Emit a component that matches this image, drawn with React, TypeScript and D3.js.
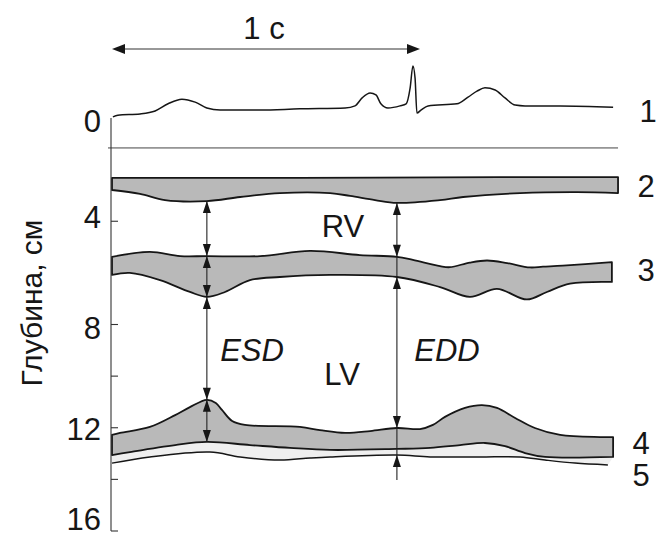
import React from 'react';
import * as d3 from 'd3';

// ---------- DATA (time in ms, depth in cm, ECG in mV) ----------
const ecgTimes = [3, 19, 91, 140, 182, 227, 270, 308, 351, 481, 610, 757, 789, 812, 838, 857, 873, 896, 935, 955, 968, 977, 984, 990, 1003, 1026, 1120, 1156, 1185, 1211, 1244, 1276, 1309, 1341, 1455, 1627];
const ecgMv = [-0.21, -0.17, -0.14, -0.07, 0.1, 0.21, 0.14, 0.0, -0.05, -0.05, -0.02, 0.0, 0.05, 0.24, 0.36, 0.31, 0.1, 0.0, 0.05, 0.1, 0.48, 1.0, 0.71, -0.12, -0.05, 0.05, 0.1, 0.26, 0.4, 0.48, 0.43, 0.24, 0.07, 0.05, 0.05, 0.02];

const chestLineDepth = 1.16;
const traceEnd = 1643;

// 2: RV anterior wall
const band2TopT = [0, 610, 1260, 1643];
const band2TopD = [2.32, 2.32, 2.29, 2.29];
const band2BotT = [0, 91, 172, 308, 416, 545, 708, 773, 854, 925, 1065, 1140, 1325, 1510, 1643];
const band2BotD = [2.79, 2.94, 3.18, 3.22, 3.06, 2.91, 2.91, 3.02, 3.18, 3.29, 3.18, 3.06, 2.91, 2.87, 2.91];

// 3: interventricular septum
const band3TopT = [0, 123, 221, 308, 481, 643, 805, 925, 977, 1065, 1097, 1162, 1218, 1283, 1357, 1399, 1464, 1623];
const band3TopD = [5.38, 5.19, 5.35, 5.35, 5.35, 5.15, 5.31, 5.38, 5.5, 5.74, 5.78, 5.6, 5.52, 5.62, 5.79, 5.76, 5.72, 5.58];
const band3BotT = [0, 58, 156, 253, 308, 367, 448, 545, 708, 925, 1065, 1162, 1250, 1347, 1412, 1487, 1623];
const band3BotD = [6.08, 6.0, 6.28, 6.74, 6.93, 6.74, 6.28, 6.16, 6.08, 6.16, 6.55, 6.93, 6.62, 7.03, 6.74, 6.42, 6.35];

// 4: LV posterior wall
const band4TopT = [0, 26, 123, 205, 253, 308, 337, 357, 390, 432, 610, 675, 757, 838, 925, 1000, 1042, 1081, 1146, 1201, 1250, 1309, 1373, 1455, 1585, 1627];
const band4TopD = [12.28, 12.2, 11.97, 11.51, 11.2, 10.92, 11.04, 11.31, 11.74, 11.89, 11.97, 12.09, 12.2, 12.13, 12.01, 12.05, 11.89, 11.58, 11.23, 11.12, 11.23, 11.62, 12.01, 12.28, 12.36, 12.36];
const band4BotT = [0, 58, 205, 308, 448, 578, 708, 925, 1033, 1130, 1211, 1276, 1341, 1406, 1627];
const band4BotD = [13.06, 12.94, 12.67, 12.55, 12.67, 12.78, 12.86, 12.82, 12.78, 12.67, 12.59, 12.71, 12.98, 13.13, 13.13];

// 5: pericardium
const line5T = [0, 123, 318, 416, 545, 643, 708, 925, 1033, 1195, 1325, 1406, 1503, 1610];
const line5D = [13.37, 13.13, 12.94, 13.13, 13.25, 13.17, 13.13, 13.06, 13.13, 13.13, 13.13, 13.25, 13.37, 13.44];

// measurement lines
const esdTime = 308;
const esdDepths = [3.22, 5.35, 6.93, 10.92, 12.55];
const eddTime = 925;
const eddDepths = [3.29, 5.38, 6.16, 12.01, 13.06, 14.02];

const depthTickLabels = [0, 4, 8, 12, 16];
const depthMinorTicks = [4, 8, 10, 12, 14];
const traceLabels = ['1', '2', '3', '4', '5'];

// ---------- SCALES ----------
const X = d3.scaleLinear().domain([0, 1000]).range([112, 420]);
const Y = d3.scaleLinear().domain([0, 16]).range([118, 531]);
const E = d3.scaleLinear().domain([0, 1]).range([108, 66]);

type P = [number, number];
const zip = (ts: number[], vs: number[]): P[] => ts.map((t, i) => [t, vs[i]] as P);

const smooth = d3
  .line<P>()
  .x((d) => X(d[0]))
  .y((d) => Y(d[1]))
  .curve(d3.curveCatmullRom.alpha(0.5));

const ecgLine = d3
  .line<P>()
  .x((d) => X(d[0]))
  .y((d) => E(d[1]))
  .curve(d3.curveMonotoneX);

function bandPath(top: P[], bot: P[]) {
  const a = smooth(top) as string;
  const b = smooth([...bot].reverse()) as string;
  return a + 'L' + b.slice(1) + 'Z';
}

function head(x: number, y: number, up: boolean) {
  const l = 12, w = 4;
  const by = up ? y + l : y - l;
  return `M${x},${y}L${x - w},${by}L${x + w},${by}Z`;
}

const FONT = '"Liberation Sans", Arial, Helvetica, sans-serif';
const INK = '#161616';
const FILL = '#b9b9b9';

export default function App() {
  const b2 = bandPath(zip(band2TopT, band2TopD), zip(band2BotT, band2BotD));
  const b3 = bandPath(zip(band3TopT, band3TopD), zip(band3BotT, band3BotD));
  const b4 = bandPath(zip(band4TopT, band4TopD), zip(band4BotT, band4BotD));
  const light = bandPath(zip(band4BotT, band4BotD), zip(line5T, line5D));
  const l5 = smooth(zip(line5T, line5D)) as string;
  const ecg = ecgLine(zip(ecgTimes, ecgMv)) as string;

  const xEsd = X(esdTime);
  const xEdd = X(eddTime);

  const heads: string[] = [];
  for (let i = 0; i < esdDepths.length - 1; i++) {
    heads.push(head(xEsd, Y(esdDepths[i]), true));
    heads.push(head(xEsd, Y(esdDepths[i + 1]), false));
  }
  heads.push(head(xEdd, Y(eddDepths[0]), true));
  heads.push(head(xEdd, Y(eddDepths[1]), false));
  heads.push(head(xEdd, Y(eddDepths[2]), true));
  heads.push(head(xEdd, Y(eddDepths[3]), false));
  heads.push(head(xEdd, Y(eddDepths[4]), true));

  const axisX = X(0) - 1;
  const arrowY = 49;
  const labelPos: [number, number][] = [
    [648, 111],
    [646, 186],
    [646, 270],
    [641, 443],
    [641, 475],
  ];
  const tickLabelShift = [3, -4, 3, 1, -12];

  return (
    <svg width={656} height={538} style={{ position: 'absolute', left: 0, top: 0, background: '#fff' }} fontFamily={FONT}>
      <rect width={656} height={538} fill="#fff" />
      {/* 1 s scale arrow */}
      <line x1={X(0) + 10} x2={X(1000) - 10} y1={arrowY} y2={arrowY} stroke="#333" strokeWidth={1.2} />
      <path d={`M${X(0)},${arrowY}L${X(0) + 13},${arrowY - 5}L${X(0) + 13},${arrowY + 5}Z`} fill={INK} />
      <path d={`M${X(1000)},${arrowY}L${X(1000) - 13},${arrowY - 5}L${X(1000) - 13},${arrowY + 5}Z`} fill={INK} />
      <text x={264} y={39} fontSize={31} textAnchor="middle" fill={INK}>1 с</text>

      {/* ECG */}
      <path d={ecg} fill="none" stroke={INK} strokeWidth={1.5} />

      {/* chest wall line */}
      <line x1={axisX - 3} x2={X(traceEnd)} y1={Y(chestLineDepth)} y2={Y(chestLineDepth)} stroke="#444" strokeWidth={1} />

      {/* bands */}
      <path d={light} fill="#efefef" stroke="none" />
      <path d={b2} fill={FILL} stroke={INK} strokeWidth={1.8} strokeLinejoin="round" />
      <path d={b3} fill={FILL} stroke={INK} strokeWidth={1.8} strokeLinejoin="round" />
      <path d={b4} fill={FILL} stroke={INK} strokeWidth={1.8} strokeLinejoin="round" />
      <path d={l5} fill="none" stroke={INK} strokeWidth={1.5} />

      {/* measurement lines */}
      <line x1={xEsd} x2={xEsd} y1={Y(esdDepths[0])} y2={Y(esdDepths[esdDepths.length - 1])} stroke="#222" strokeWidth={1.1} />
      <line x1={xEdd} x2={xEdd} y1={Y(eddDepths[0])} y2={Y(eddDepths[eddDepths.length - 1])} stroke="#222" strokeWidth={1.1} />
      {heads.map((d, i) => (
        <path key={i} d={d} fill={INK} />
      ))}

      {/* depth axis */}
      <line x1={axisX} x2={axisX} y1={Y(0)} y2={Y(16)} stroke="#333" strokeWidth={1.1} />
      <line x1={axisX} x2={axisX + 7} y1={Y(16)} y2={Y(16)} stroke="#333" strokeWidth={1.1} />
      {depthMinorTicks.map((v) => (
        <line key={v} x1={axisX} x2={axisX + 7} y1={Y(v)} y2={Y(v)} stroke="#333" strokeWidth={1.1} />
      ))}
      {depthTickLabels.map((v, i) => (
        <text key={v} x={axisX - 10} y={Y(v) + tickLabelShift[i]} dy="0.36em" fontSize={31} textAnchor="end" fill={INK}>
          {v}
        </text>
      ))}
      <text transform="translate(42,303) rotate(-90)" fontSize={30} textAnchor="middle" fill={INK}>
        Глубина, см
      </text>

      {/* labels */}
      <text x={343} y={226} dy="0.36em" fontSize={31} textAnchor="middle" fill={INK}>RV</text>
      <text x={342} y={374} dy="0.36em" fontSize={31} textAnchor="middle" fill={INK}>LV</text>
      <text x={252} y={350} dy="0.36em" fontSize={31} fontStyle="italic" textAnchor="middle" fill={INK}>ESD</text>
      <text x={447} y={350} dy="0.36em" fontSize={31} fontStyle="italic" textAnchor="middle" fill={INK}>EDD</text>
      {traceLabels.map((t, i) => (
        <text key={t} x={labelPos[i][0]} y={labelPos[i][1]} dy="0.36em" fontSize={31} textAnchor="middle" fill={INK}>
          {t}
        </text>
      ))}
    </svg>
  );
}
